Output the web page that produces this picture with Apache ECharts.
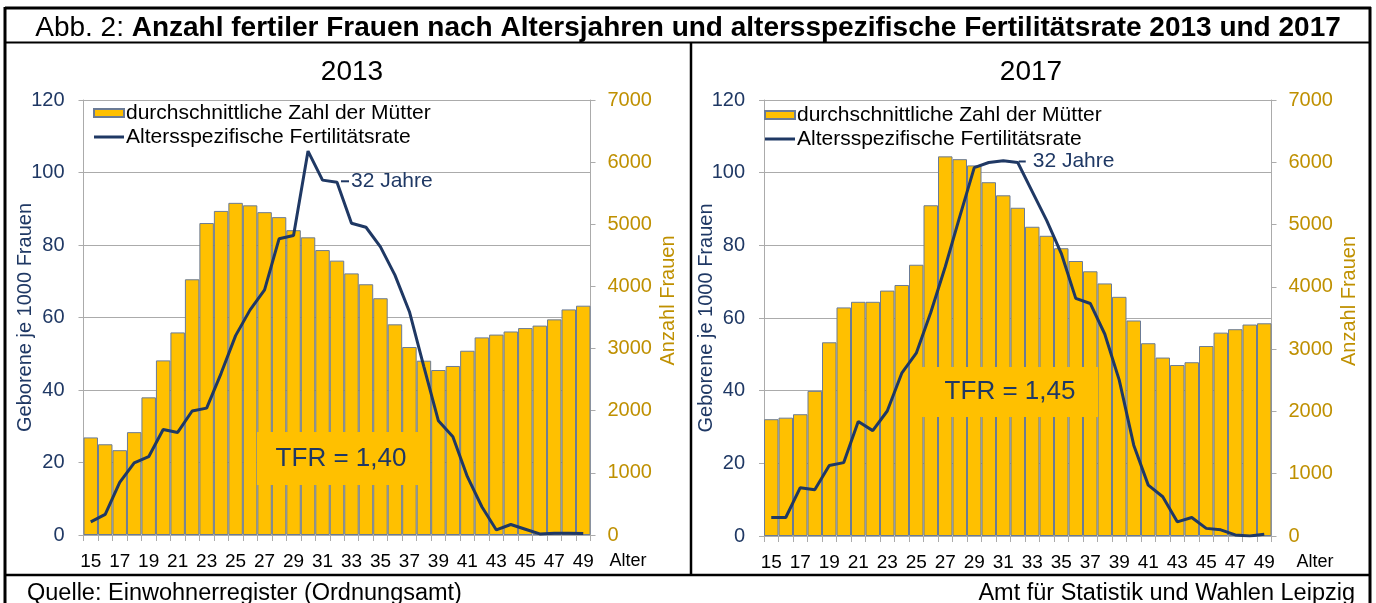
<!DOCTYPE html>
<html>
<head>
<meta charset="utf-8">
<script src="https://cdn.jsdelivr.net/npm/echarts@6/dist/echarts.min.js"></script>
<style>
  html, body { margin: 0; padding: 0; background: #fff; }
  #chart { width: 1376px; height: 603px; }
</style>
</head>
<body>
<div id="chart"></div>
<script>
// Altersjahre (Kategorien)
const ages = ['15', '16', '17', '18', '19', '20', '21', '22', '23', '24', '25', '26', '27', '28', '29', '30', '31', '32',
  '33', '34', '35', '36', '37', '38', '39', '40', '41', '42', '43', '44', '45', '46', '47', '48', '49']

// durchschnittliche Zahl der Mütter (rechte Achse)
const women2013 = [1570, 1460, 1365, 1655, 2215, 2810, 3260, 4115, 5020, 5215, 5345, 5305, 5195, 5115, 4905, 4790, 4585, 4415,
  4210, 4035, 3810, 3390, 3025, 2805, 2655, 2720, 2965, 3180, 3225, 3275, 3330, 3370, 3470, 3630, 3690]
const women2017 = [1875, 1900, 1955, 2330, 3110, 3670, 3760, 3760, 3940, 4030, 4355, 5310, 6095, 6050, 5950, 5680, 5470, 5270,
  4965, 4820, 4620, 4415, 4250, 4055, 3840, 3460, 3095, 2865, 2745, 2790, 3050, 3265, 3320, 3395, 3415]

// Altersspezifische Fertilitätsrate (linke Achse)
const rate2013 = [3.6, 5.7, 14.5, 19.9, 21.6, 29.1, 28.3, 34.2, 35.0, 44.6, 55.0, 62.1, 67.6, 81.7, 82.6, 105.9, 97.9, 97.3,
  86.0, 84.9, 79.5, 71.7, 61.6, 46.4, 31.5, 27.1, 16.1, 7.8, 1.4, 2.9, 1.6, 0.3, 0.5, 0.5, 0.4]
const rate2017 = [5.1, 5.1, 13.3, 12.7, 19.4, 20.2, 31.5, 29.0, 34.4, 44.8, 50.3, 61.5, 74.1, 87.9, 101.4, 102.8, 103.3, 102.8,
  94.8, 86.8, 77.8, 65.4, 64.0, 55.6, 42.9, 25.0, 14.0, 10.8, 3.9, 5.1, 2.1, 1.7, 0.3, 0.0, 0.5]

const peakIndex = 17   // 32 Jahre
const years = ['2013', '2017']
const tfrTexts = ['TFR = 1,40', 'TFR = 1,45']

const barName = 'durchschnittliche Zahl der Mütter'
const lineName = 'Altersspezifische Fertilitätsrate'

const FONT = 'Liberation Sans, Arial, sans-serif'
const NAVY = '#1F3864'
const GOLD = '#BF9000'
const GRID = '#ABABAB'
const YELLOW = '#FFC000'

const chart = echarts.init(document.getElementById('chart'))

// Position der beiden Diagramme
const grids = [
  { left: 83.5, right: 785.5, top: 100, bottom: 68 },
  { left: 764, right: 104.5, top: 100, bottom: 67 }
]

function xAxisFor (i, nameGap) {
  return {
    type: 'category',
    gridIndex: i,
    data: ages,
    name: 'Alter',
    nameLocation: 'end',
    nameGap: nameGap,
    nameMoveOverlap: false,
    nameTextStyle: { color: '#000', fontSize: 18, fontFamily: FONT, verticalAlign: 'top', padding: [17, 0, 0, 0] },
    axisLine: { lineStyle: { color: GRID, width: 1 } },
    axisTick: { show: true, interval: 0, length: 6, lineStyle: { color: GRID } },
    axisLabel: { interval: 1, color: '#000', fontSize: 19, fontFamily: FONT, margin: 17 },
    splitLine: { show: false }
  }
}

function leftAxisFor (i) {
  return {
    type: 'value',
    gridIndex: i,
    min: 0,
    max: 120,
    interval: 20,
    name: 'Geborene je 1000 Frauen',
    nameLocation: 'middle',
    nameRotate: 90,
    nameGap: 48,
    nameMoveOverlap: false,
    nameTextStyle: { color: NAVY, fontSize: 20, fontFamily: FONT },
    axisLine: { show: true, lineStyle: { color: GRID } },
    axisTick: { show: true, length: 5, lineStyle: { color: GRID } },
    axisLabel: { color: NAVY, fontSize: 20, fontFamily: FONT, margin: 19 },
    splitLine: { show: true, lineStyle: { color: GRID, width: 1 } }
  }
}

function rightAxisFor (i) {
  return {
    type: 'value',
    gridIndex: i,
    position: 'right',
    min: 0,
    max: 7000,
    interval: 1000,
    name: 'Anzahl Frauen',
    nameLocation: 'middle',
    nameRotate: 90,
    nameGap: 68,
    nameMoveOverlap: false,
    nameTextStyle: { color: GOLD, fontSize: 20, fontFamily: FONT, padding: [0, 0, 0, 34] },
    axisLine: { show: true, lineStyle: { color: GRID } },
    axisTick: { show: true, length: 5, lineStyle: { color: GRID } },
    axisLabel: { color: GOLD, fontSize: 20, fontFamily: FONT, margin: 17, formatter: (v) => String(v) },
    splitLine: { show: false }
  }
}

function seriesFor (i, women, rate, labelDist, dashW, textPad) {
  const lineData = rate.map((v, k) => {
    if (k !== peakIndex) return v
    return {
      value: v,
      label: {
        show: true,
        position: 'right',
        distance: labelDist,
        offset: [0, -1],
        formatter: '{d|}{t|32 Jahre}',
        rich: {
          d: { width: dashW, height: 2, backgroundColor: NAVY },
          t: { color: NAVY, fontSize: 21, fontFamily: FONT, padding: [0, 0, 0, textPad] }
        }
      }
    }
  })
  return [
    {
      name: barName,
      type: 'bar',
      xAxisIndex: i,
      yAxisIndex: i * 2 + 1,
      data: women,
      barCategoryGap: 0,
      itemStyle: { color: YELLOW, borderColor: '#6B7B95', borderWidth: 1 },
      z: 2
    },
    {
      name: lineName,
      type: 'line',
      xAxisIndex: i,
      yAxisIndex: i * 2,
      data: lineData,
      symbol: 'circle',
      symbolSize: 0,
      showSymbol: true,
      showAllSymbol: true,
      lineStyle: { color: NAVY, width: 3 },
      itemStyle: { color: NAVY },
      z: 5
    }
  ]
}

function legendFor (left, top) {
  return {
    left: left,
    top: top,
    padding: 0,
    orient: 'vertical',
    itemGap: 0,
    itemWidth: 30,
    itemHeight: 8,
    textStyle: { color: '#000', fontSize: 21, fontFamily: FONT, lineHeight: 24, padding: [0, 0, 0, -3] },
    data: [
      { name: barName, icon: 'rect' },
      { name: lineName, icon: 'path://M0,0H40V4H0Z' }
    ]
  }
}

// TFR-Kästchen
function tfrBox (x, y, w, h, text) {
  return {
    type: 'group',
    z: 100,
    children: [
      { type: 'rect', shape: { x: x, y: y, width: w, height: h }, style: { fill: YELLOW }, z: 100 },
      {
        type: 'text',
        z: 101,
        style: {
          x: x + w / 2,
          y: y + h / 2,
          text: text,
          fill: NAVY,
          font: '26px ' + FONT,
          align: 'center',
          verticalAlign: 'middle'
        }
      }
    ]
  }
}

function frameLine (x1, y1, x2, y2, w) {
  return { type: 'line', shape: { x1: x1, y1: y1, x2: x2, y2: y2 }, style: { stroke: '#000', lineWidth: w }, z: 200 }
}

const option = {
  animation: false,
  backgroundColor: '#fff',
  title: [
    {
      text: '{n|Abb. 2: }{b|Anzahl fertiler Frauen nach Altersjahren und altersspezifische Fertilitätsrate 2013 und 2017}',
      left: 'center',
      top: 9,
      textStyle: {
        rich: {
          n: { fontSize: 28, fontFamily: FONT, color: '#000', fontWeight: 'normal' },
          b: { fontSize: 28, fontFamily: FONT, color: '#000', fontWeight: 'bold' }
        }
      }
    },
    { text: years[0], left: 347, top: 53, textAlign: 'center', textStyle: { fontSize: 28, fontWeight: 'normal', fontFamily: FONT, color: '#000' } },
    { text: years[1], left: 1026, top: 53, textAlign: 'center', textStyle: { fontSize: 28, fontWeight: 'normal', fontFamily: FONT, color: '#000' } },
    { text: 'Quelle: Einwohnerregister (Ordnungsamt)', left: 22, top: 577, textStyle: { fontSize: 23.5, fontWeight: 'normal', fontFamily: FONT, color: '#000' } },
    { text: 'Amt für Statistik und Wahlen Leipzig', right: 16, top: 577, textStyle: { fontSize: 23.5, fontWeight: 'normal', fontFamily: FONT, color: '#000' } }
  ],
  legend: [legendFor(93, 101), legendFor(764, 103)],
  grid: grids,
  xAxis: [xAxisFor(0, 19), xAxisFor(1, 25)],
  yAxis: [leftAxisFor(0), rightAxisFor(0), leftAxisFor(1), rightAxisFor(1)],
  series: [
    ...seriesFor(0, women2013, rate2013, 4, 8, 2),
    ...seriesFor(1, women2017, rate2017, 1, 7, 7)
  ],
  graphic: [
    tfrBox(257, 432, 168, 53, tfrTexts[0]),
    tfrBox(922, 367, 176, 50, tfrTexts[1]),
    frameLine(5, 8, 1371, 8, 3),
    frameLine(5, 7, 5, 603, 3),
    frameLine(1370, 7, 1370, 603, 3),
    frameLine(5, 42.5, 1371, 42.5, 2),
    frameLine(691, 42, 691, 575, 2.5),
    frameLine(5, 575, 1371, 575, 2.5)
  ]
}

chart.setOption(option)
</script>
</body>
</html>
